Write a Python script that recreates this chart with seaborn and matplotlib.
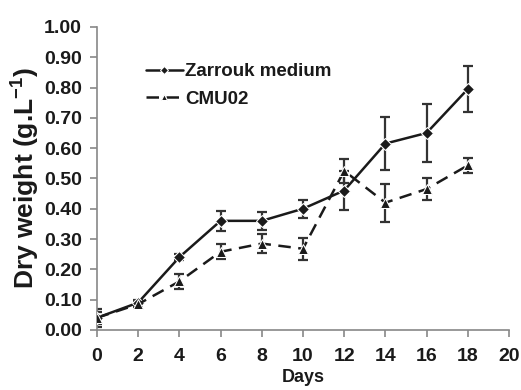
import numpy as np
import pandas as pd
import matplotlib
matplotlib.use("Agg")
import matplotlib.pyplot as plt
import seaborn as sns

# Data
days = [0, 2, 4, 6, 8, 10, 12, 14, 16, 18]
zarrouk = [0.04, 0.09, 0.24, 0.36, 0.36, 0.40, 0.46, 0.615, 0.65, 0.795]
zarrouk_err = [0.03, 0.01, 0.01, 0.034, 0.03, 0.03, 0.065, 0.087, 0.097, 0.075]
cmu02 = [0.04, 0.085, 0.16, 0.258, 0.285, 0.268, 0.525, 0.42, 0.465, 0.543]
cmu02_err = [0.02, 0.01, 0.025, 0.024, 0.03, 0.037, 0.04, 0.063, 0.035, 0.025]
xticks = list(range(0, 21, 2))
yticks = [i / 10 for i in range(11)]

sns.set_style("white")
plt.rcParams["font.family"] = ["Liberation Sans", "DejaVu Sans"]
plt.rcParams["font.weight"] = "bold"
plt.rcParams["mathtext.fontset"] = "custom"
plt.rcParams["mathtext.rm"] = "Liberation Sans:bold"
plt.rcParams["mathtext.default"] = "rm"

df = pd.DataFrame({"Days": days, "Zarrouk medium": zarrouk, "CMU02": cmu02})

fig = plt.figure(figsize=(5.21, 3.90), dpi=100)
ax = fig.add_axes([0.186, 0.154, 0.791, 0.777])

ink = "#1a1a1a"
ax.errorbar(days, zarrouk, yerr=zarrouk_err, fmt="none", ecolor="#333333",
            elinewidth=1.6, capsize=3.5, capthick=1.6, zorder=2)
ax.errorbar(days, cmu02, yerr=cmu02_err, fmt="none", ecolor="#333333",
            elinewidth=1.6, capsize=3.5, capthick=1.6, zorder=2)

sns.lineplot(data=df, x="Days", y="Zarrouk medium", ax=ax, color=ink,
             marker="D", markersize=6, linewidth=1.8, label="Zarrouk medium", zorder=3)
sns.lineplot(data=df, x="Days", y="CMU02", ax=ax, color=ink,
             marker="^", markersize=7, linewidth=1.8, dashes=(5, 3),
             label="CMU02", zorder=3)

ax.set_xlim(0, 20)
ax.set_ylim(0, 1.0)
ax.set_xticks(xticks)
ax.set_yticks(yticks)
ax.set_yticklabels([f"{v:.2f}" for v in yticks])
ax.tick_params(axis="both", direction="out", length=5, width=1.2, color="#888888",
               labelsize=14, bottom=True, left=True)
ax.tick_params(axis="x", pad=8)
ax.tick_params(axis="y", pad=6)
for lab in ax.get_xticklabels() + ax.get_yticklabels():
    lab.set_fontweight("bold")
    lab.set_color("#1a1a1a")

for s in ["top", "right"]:
    ax.spines[s].set_visible(False)
for s in ["left", "bottom"]:
    ax.spines[s].set_color("#888888")
    ax.spines[s].set_linewidth(1.2)

ax.set_xlabel("Days", fontsize=13, fontweight="bold", labelpad=3, color="#1a1a1a")
ax.set_ylabel("Dry weight (g.L$^{-1}$)", fontsize=19, fontweight="bold",
              labelpad=1, color="#1a1a1a")

leg = ax.legend(loc="upper left", bbox_to_anchor=(0.1, 0.905), frameon=False,
                fontsize=13.5, handlelength=2.0, handletextpad=0.1,
                labelspacing=0.55, borderaxespad=0)
for t in leg.get_texts():
    t.set_fontweight("bold")
    t.set_color("#1a1a1a")
for h in leg.legend_handles:
    h.set_markersize(4)

fig.savefig("out.png", dpi=100)
